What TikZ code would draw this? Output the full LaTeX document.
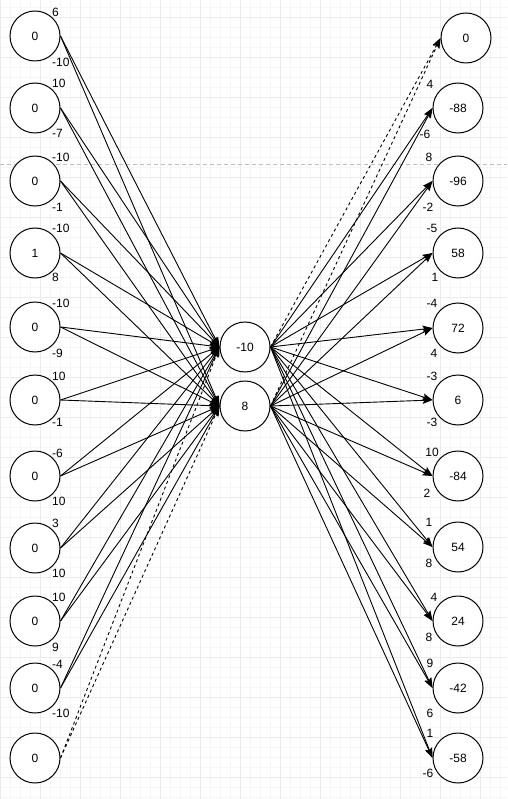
\documentclass[tikz,border=0pt]{standalone}
\usepackage{fontspec}
\setmainfont{Liberation Sans}
\usetikzlibrary{arrows.meta}

\tikzset{
neuron/.style={draw, circle, line width=1pt, minimum size=50pt, inner sep=0pt, fill=white, font=\fontsize{12}{14}\selectfont},
wt/.style={inner sep=0pt, font=\fontsize{12}{14}\selectfont},
link/.style={line width=0.9pt, -{Stealth[length=10pt,width=7pt,inset=2pt]}},
zerolink/.style={link, dash pattern=on 3pt off 3pt},
}

\begin{document}
\begin{tikzpicture}[x=1pt,y=-1pt]
\useasboundingbox (0,0) rectangle (507,799);
\draw[gray!7, line width=0.8pt, step=10pt, yshift=-7pt] (0,-7) grid (507,792);
\draw[gray!16, line width=0.8pt, step=40pt, yshift=-17pt] (0,-17) grid (507,782);
\draw[gray!50, line width=0.8pt, dash pattern=on 4pt off 3pt] (0,164) -- (507,164);

% input layer
\node[neuron] (I1) at (35,36) {0};
\node[neuron] (I2) at (35,108) {0};
\node[neuron] (I3) at (35,181) {0};
\node[neuron] (I4) at (35,253) {1};
\node[neuron] (I5) at (35,327) {0};
\node[neuron] (I6) at (35,400) {0};
\node[neuron] (I7) at (35,476) {0};
\node[neuron] (I8) at (35,548) {0};
\node[neuron] (I9) at (35,621) {0};
\node[neuron] (I10) at (35,688) {0};
\node[neuron] (I11) at (35,758) {0};

% hidden layer
\node[neuron] (H1) at (245,347) {-10};
\node[neuron] (H2) at (245,406) {8};

% output layer
\node[neuron] (O1) at (466,38) {0};
\node[neuron] (O2) at (458,108) {-88};
\node[neuron] (O3) at (458,181) {-96};
\node[neuron] (O4) at (458,253) {58};
\node[neuron] (O5) at (458,328) {72};
\node[neuron] (O6) at (458,400) {6};
\node[neuron] (O7) at (458,476) {-84};
\node[neuron] (O8) at (458,547) {54};
\node[neuron] (O9) at (458,621) {24};
\node[neuron] (O10) at (458,688) {-42};
\node[neuron] (O11) at (458,758) {-58};

\draw[link] (I1.east) -- (H1.west);
\draw[link] (I1.east) -- (H2.west);
\draw[link] (I2.east) -- (H1.west);
\draw[link] (I2.east) -- (H2.west);
\draw[link] (I3.east) -- (H1.west);
\draw[link] (I3.east) -- (H2.west);
\draw[link] (I4.east) -- (H1.west);
\draw[link] (I4.east) -- (H2.west);
\draw[link] (I5.east) -- (H1.west);
\draw[link] (I5.east) -- (H2.west);
\draw[link] (I6.east) -- (H1.west);
\draw[link] (I6.east) -- (H2.west);
\draw[link] (I7.east) -- (H1.west);
\draw[link] (I7.east) -- (H2.west);
\draw[link] (I8.east) -- (H1.west);
\draw[link] (I8.east) -- (H2.west);
\draw[link] (I9.east) -- (H1.west);
\draw[link] (I9.east) -- (H2.west);
\draw[link] (I10.east) -- (H1.west);
\draw[link] (I10.east) -- (H2.west);
\draw[zerolink] (I11.east) -- (H1.west);
\draw[zerolink] (I11.east) -- (H2.west);

\draw[zerolink] (H1.east) -- (O1.west);
\draw[zerolink] (H2.east) -- (O1.west);
\draw[link] (H1.east) -- (O2.west);
\draw[link] (H2.east) -- (O2.west);
\draw[link] (H1.east) -- (O3.west);
\draw[link] (H2.east) -- (O3.west);
\draw[link] (H1.east) -- (O4.west);
\draw[link] (H2.east) -- (O4.west);
\draw[link] (H1.east) -- (O5.west);
\draw[link] (H2.east) -- (O5.west);
\draw[link] (H1.east) -- (O6.west);
\draw[link] (H2.east) -- (O6.west);
\draw[link] (H1.east) -- (O7.west);
\draw[link] (H2.east) -- (O7.west);
\draw[link] (H1.east) -- (O8.west);
\draw[link] (H2.east) -- (O8.west);
\draw[link] (H1.east) -- (O9.west);
\draw[link] (H2.east) -- (O9.west);
\draw[link] (H1.east) -- (O10.west);
\draw[link] (H2.east) -- (O10.west);
\draw[link] (H1.east) -- (O11.west);
\draw[link] (H2.east) -- (O11.west);

% weights, input side
\node[wt, anchor=west] (a1) at (52,12) {6};
\node[wt, anchor=west] (b1) at (52,62) {-10};
\node[wt, anchor=west] (a2) at (52,83) {10};
\node[wt, anchor=west] (b2) at (52,133) {-7};
\node[wt, anchor=west] (a3) at (52,157) {-10};
\node[wt, anchor=west] (b3) at (52,207) {-1};
\node[wt, anchor=west] (a4) at (52,228) {-10};
\node[wt, anchor=west] (b4) at (52,277) {8};
\node[wt, anchor=west] (a5) at (52,303) {-10};
\node[wt, anchor=west] (b5) at (52,353) {-9};
\node[wt, anchor=west] (a6) at (52,376) {10};
\node[wt, anchor=west] (b6) at (52,422) {-1};
\node[wt, anchor=west] (a7) at (52,453) {-6};
\node[wt, anchor=west] (b7) at (52,501) {10};
\node[wt, anchor=west] (a8) at (52,523) {3};
\node[wt, anchor=west] (b8) at (52,573) {10};
\node[wt, anchor=west] (a9) at (52,597) {10};
\node[wt, anchor=west] (b9) at (52,647) {9};
\node[wt, anchor=west] (a10) at (52,664) {-4};
\node[wt, anchor=west] (b10) at (52,713) {-10};

% weights, output side
\node[wt] (c2) at (430,84) {4};
\node[wt] (d2) at (425,134) {-6};
\node[wt] (c3) at (429,157) {8};
\node[wt] (d3) at (428,207) {-2};
\node[wt] (c4) at (432,228) {-5};
\node[wt] (d4) at (435,277) {1};
\node[wt] (c5) at (432,303) {-4};
\node[wt] (d5) at (434,353) {4};
\node[wt] (c6) at (432,376) {-3};
\node[wt] (d6) at (432,422) {-3};
\node[wt] (c7) at (432,452) {10};
\node[wt] (d7) at (427,493) {2};
\node[wt] (c8) at (429,522) {1};
\node[wt] (d8) at (429,563) {8};
\node[wt] (c9) at (434,597) {4};
\node[wt] (d9) at (429,637) {8};
\node[wt] (c10) at (430,663) {9};
\node[wt] (d10) at (430,713) {6};
\node[wt] (c11) at (430,733) {1};
\node[wt] (d11) at (428,773) {-6};
\end{tikzpicture}
\end{document}
